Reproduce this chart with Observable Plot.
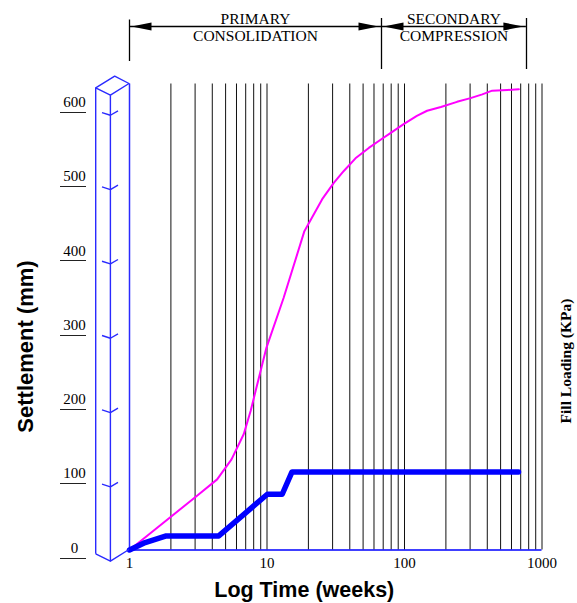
<!DOCTYPE html>
<html>
<head>
<meta charset="utf-8">
<script src="https://cdn.jsdelivr.net/npm/d3@7"></script>
<script src="https://cdn.jsdelivr.net/npm/@observablehq/plot@0.6"></script>
<style>
  html, body { margin: 0; padding: 0; background: #fff; }
  #chart svg { display: block; overflow: visible; }
</style>
</head>
<body>
<div id="chart"></div>
<script>
// ---- data ----
const settlementTime = [1, 3.1, 4.34, 5.52, 6.78, 7.6, 9.9, 13.2, 18.7, 25.2, 30.6, 36.2, 44, 55, 67, 79, 98.6, 123, 146, 184, 241, 302, 368, 434, 560, 679];
const settlementMM   = [0, 73, 95, 122, 156, 187, 272, 339, 429, 472, 494, 510, 527, 541, 552, 561, 573, 584, 591, 596, 603, 608, 613, 618, 619, 620];

// fill loading, read against the left (settlement) scale
const fillTime = [1, 1.3, 1.85, 4.46, 10.06, 12.9, 15.2, 675];
const fillLoad = [0, 10, 19, 19, 75, 75, 105, 105];

const gridTimes = [2, 3, 4, 5, 6, 7, 8, 9, 10, 20, 30, 40, 50, 60, 70, 80, 90, 100, 200, 300, 400, 500, 600, 700, 800, 900, 1000];
const xTickLabels = [1, 10, 100, 1000];
const yTickLabels = [0, 100, 200, 300, 400, 500, 600];
const columnTicks = [100, 200, 300, 400, 500, 600];

const phaseStart = [1, 68];
const phaseEnd = [68, 770];
const phaseLine1 = ["PRIMARY", "SECONDARY"];
const phaseLine2 = ["CONSOLIDATION", "COMPRESSION"];

const yMax = 627;

(function () {
// ---- tables ----
const settlement = settlementTime.map((t, i) => ({t, v: settlementMM[i]}));
const fill = fillTime.map((t, i) => ({t, v: fillLoad[i]}));
const phases = phaseStart.map((s, i) => ({s, e: phaseEnd[i], l1: phaseLine1[i], l2: phaseLine2[i]}));

const serif = "'Liberation Serif', 'Times New Roman', serif";
const sans = "'Liberation Sans', Arial, sans-serif";

const plot = Plot.plot({
  width: 577,
  height: 603,
  marginLeft: 129,
  marginRight: 35.5,
  marginTop: 83.5,
  marginBottom: 53.5,
  x: {type: "log", domain: [1, 1000], axis: null},
  y: {domain: [0, yMax], axis: null},
  style: {background: "#fff", overflow: "visible"},
  marks: [
    Plot.ruleX(gridTimes, {stroke: "#111", strokeWidth: 1}),
    Plot.ruleY([0], {stroke: "#0000ff", strokeWidth: 1.5}),
    Plot.ruleX([1], {stroke: "#2a2aff", strokeWidth: 1.5}),
    Plot.line(settlement, {x: "t", y: "v", stroke: "#ff00ff", strokeWidth: 2, strokeLinejoin: "round"}),
    Plot.line(fill, {x: "t", y: "v", stroke: "#0000ff", strokeWidth: 5.5, strokeLinejoin: "round"}),
    Plot.text(xTickLabels, {x: d => d, text: d => String(d), frameAnchor: "bottom", lineAnchor: "middle",
      dy: 13.5, fontSize: 15, fontFamily: serif, fill: "#000"}),
    Plot.text(yTickLabels, {y: d => d, text: d => String(d), frameAnchor: "left", dx: -55, dy: -2,
      textAnchor: "middle", lineAnchor: "middle", fontSize: 15, fontFamily: serif, fill: "#000"}),
    Plot.text(phases, {x: d => Math.sqrt(d.s * d.e), text: "l1", frameAnchor: "top", lineAnchor: "middle",
      dy: -65, fontSize: 15.5, fontFamily: serif, fill: "#000"}),
    Plot.text(phases, {x: d => Math.sqrt(d.s * d.e), text: "l2", frameAnchor: "top", lineAnchor: "middle",
      dy: -47.5, fontSize: 15.5, fontFamily: serif, fill: "#000"}),
    Plot.text(["Settlement (mm)"], {frameAnchor: "left", textAnchor: "middle", lineAnchor: "middle",
      dx: -104, dy: 29.5, rotate: -90,
      fontSize: 22, fontWeight: "bold", fontFamily: sans, fill: "#000"}),
    Plot.text(["Log Time (weeks)"], {frameAnchor: "bottom", textAnchor: "middle", lineAnchor: "middle",
      dx: -31.5, dy: 40.5,
      fontSize: 21.5, fontWeight: "bold", fontFamily: sans, fill: "#000"}),
    Plot.text(["Fill Loading (KPa)"], {frameAnchor: "right", textAnchor: "middle", lineAnchor: "middle",
      dx: 24.5, dy: 44, rotate: -90,
      fontSize: 15.5, fontWeight: "bold", fontFamily: serif, fill: "#000"})
  ]
});

document.getElementById("chart").appendChild(plot);

// ---- decorations placed with the plot's own scales ----
const xs = plot.scale("x"), ys = plot.scale("y");
const X = v => xs.apply(v), Y = v => ys.apply(v);
const svg = d3.select(plot);

// 3D column along the settlement axis
const bx = X(1), yTop = Y(yMax), yBot = Y(0);
const fdx = -18.6, fdy = 11.7, ldx = -33.3, ldy = 4.3, tdx = -14.3, tdy = -7.3;
const col = svg.append("g").attr("fill", "none").attr("stroke", "#2a2aff").attr("stroke-width", 1.4)
  .attr("stroke-linejoin", "round");
col.append("path").attr("d", `M${bx + fdx},${yTop + fdy}V${yBot + fdy}`);
col.append("path").attr("d", `M${bx + ldx},${yTop + ldy}V${yBot + ldy}`);
col.append("path").attr("d",
  `M${bx},${yTop}L${bx + tdx},${yTop + tdy}L${bx + ldx},${yTop + ldy}L${bx + fdx},${yTop + fdy}Z`);
col.append("path").attr("d", `M${bx + ldx},${yBot + ldy}L${bx + fdx},${yBot + fdy}L${bx},${yBot}`);
columnTicks.forEach(v => {
  const cx = bx + fdx, cy = Y(v) + fdy;
  col.append("path").attr("d", `M${cx - 8.4},${cy - 2.7}L${cx},${cy}L${cx + 7.6},${cy - 4.4}`);
});

// underlines below the settlement tick labels
const ul = svg.append("g").attr("stroke", "#222").attr("stroke-width", 1);
yTickLabels.forEach(v => {
  const yy = Math.round(Y(v) + 8) + 0.5;
  ul.append("line").attr("x1", bx - 69).attr("x2", bx - 43).attr("y1", yy).attr("y2", yy);
});

// phase brackets with arrows
const br = svg.append("g").attr("stroke", "#000").attr("stroke-width", 1.3);
const arrowY = 26.5;
const bounds = [phaseStart[0], ...phaseEnd];
bounds.forEach((b, i) => {
  const xx = Math.round(X(b)) + 0.5;
  br.append("line").attr("x1", xx).attr("x2", xx).attr("y1", i === 0 ? 19.5 : 18).attr("y2", i === 0 ? 61 : 69);
});
br.append("line").attr("x1", X(bounds[0])).attr("x2", X(bounds[bounds.length - 1])).attr("y1", arrowY).attr("y2", arrowY);
const heads = svg.append("g").attr("fill", "#000");
phases.forEach(p => {
  const a = X(p.s) + 2.5, b = X(p.e) - 2.5;
  heads.append("path").attr("d", `M${a},${arrowY}L${a + 20},${arrowY - 4}L${a + 20},${arrowY + 4}Z`);
  heads.append("path").attr("d", `M${b},${arrowY}L${b - 20},${arrowY - 4}L${b - 20},${arrowY + 4}Z`);
});
})();
</script>
</body>
</html>
